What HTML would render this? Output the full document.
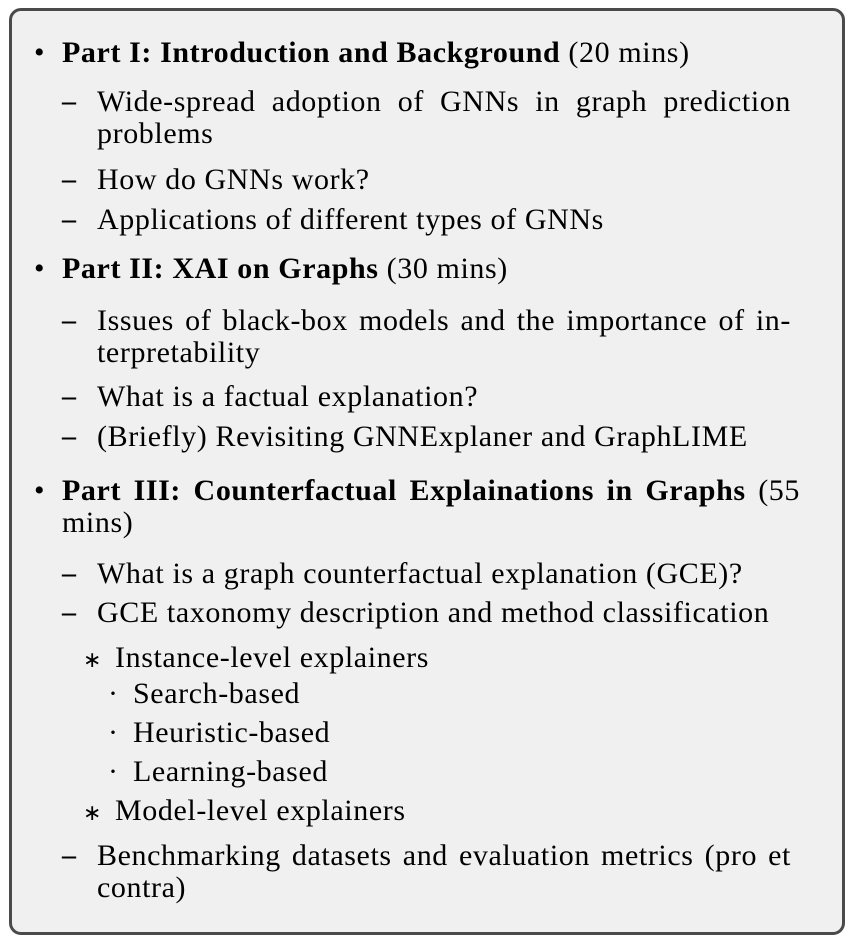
<!DOCTYPE html>
<html><head><meta charset="utf-8"><style>
body{margin:0;background:#fff;width:853px;height:943px;position:relative;overflow:hidden}
#box{position:absolute;left:9px;top:8px;width:830px;height:921px;border:3.5px solid #4a4a4a;border-radius:12px;background:#f0f0f0}
.l{position:absolute;font-family:"Liberation Serif",serif;font-size:30px;line-height:34px;color:#000;white-space:nowrap;letter-spacing:0.6px}
.j{text-align:justify;text-align-last:justify;white-space:normal}
.d{font-weight:bold;font-size:28px}
.a{font-size:22px}
b{font-weight:bold}
</style></head><body>
<div id="box"></div>
<div class="l" style="left:34px;top:36px">•</div>
<div class="l" style="left:62px;top:36px"><b>Part I: Introduction and Background</b> (20 mins)</div>
<div class="l d" style="left:62px;top:85px">–</div>
<div class="l j" style="left:97px;top:85px;width:694px">Wide-spread adoption of GNNs in graph prediction</div>
<div class="l" style="left:97px;top:117px">problems</div>
<div class="l d" style="left:62px;top:163px">–</div>
<div class="l" style="left:97px;top:163px">How do GNNs work?</div>
<div class="l d" style="left:62px;top:203px">–</div>
<div class="l" style="left:97px;top:203px">Applications of different types of GNNs</div>
<div class="l" style="left:34px;top:252px">•</div>
<div class="l" style="left:62px;top:252px"><b>Part II: XAI on Graphs</b> (30 mins)</div>
<div class="l d" style="left:62px;top:304px">–</div>
<div class="l j" style="left:97px;top:304px;width:694px">Issues of black-box models and the importance of in-</div>
<div class="l" style="left:97px;top:336px">terpretability</div>
<div class="l d" style="left:62px;top:380px">–</div>
<div class="l" style="left:97px;top:380px">What is a factual explanation?</div>
<div class="l d" style="left:62px;top:420px">–</div>
<div class="l" style="left:97px;top:420px">(Briefly) Revisiting GNNExplaner and GraphLIME</div>
<div class="l" style="left:34px;top:474px">•</div>
<div class="l j" style="left:62px;top:474px;width:738px"><b>Part III: Counterfactual Explainations in Graphs</b> (55</div>
<div class="l" style="left:62px;top:506px">mins)</div>
<div class="l d" style="left:62px;top:557px">–</div>
<div class="l" style="left:97px;top:557px">What is a graph counterfactual explanation (GCE)?</div>
<div class="l d" style="left:62px;top:596px">–</div>
<div class="l" style="left:97px;top:596px">GCE taxonomy description and method classification</div>
<div class="l a" style="left:83px;top:643px">∗</div>
<div class="l" style="left:115px;top:641px">Instance-level explainers</div>
<div class="l" style="left:108px;top:677px">·</div>
<div class="l" style="left:133px;top:677px">Search-based</div>
<div class="l" style="left:108px;top:716px">·</div>
<div class="l" style="left:133px;top:716px">Heuristic-based</div>
<div class="l" style="left:108px;top:755px">·</div>
<div class="l" style="left:133px;top:755px">Learning-based</div>
<div class="l a" style="left:83px;top:796px">∗</div>
<div class="l" style="left:115px;top:794px">Model-level explainers</div>
<div class="l d" style="left:62px;top:839px">–</div>
<div class="l j" style="left:97px;top:839px;width:694px">Benchmarking datasets and evaluation metrics (pro et</div>
<div class="l" style="left:97px;top:871px">contra)</div>
</body></html>
